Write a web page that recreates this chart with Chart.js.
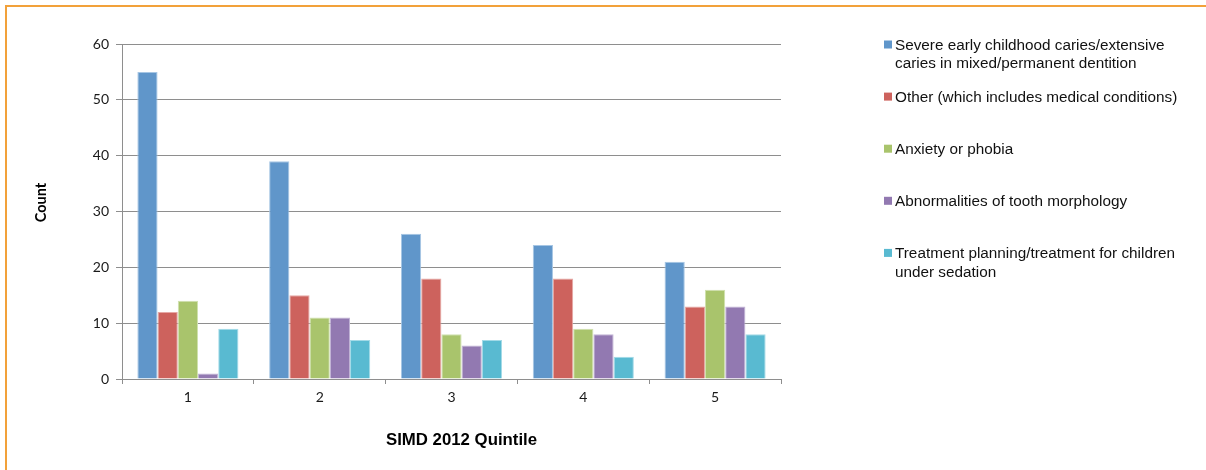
<!DOCTYPE html>
<html>
<head>
<meta charset="utf-8">
<script src="https://cdn.jsdelivr.net/npm/chart.js@4/dist/chart.umd.min.js"></script>
<style>
  html, body { margin: 0; padding: 0; background: #ffffff; overflow: hidden; width: 1206px; height: 470px; }
  #frame { position: absolute; left: 5px; top: 5px; width: 1300px; height: 600px; border: 2px solid #F2A13A; box-sizing: border-box; }
  #c { position: absolute; left: 0; top: 0; }
</style>
</head>
<body>
<div id="frame"></div>
<canvas id="c" width="1206" height="470"></canvas>
<script>
// ---- Data ----
const categories = ["1", "2", "3", "4", "5"];
const seriesNames = [
  "Severe early childhood caries/extensive caries in mixed/permanent dentition",
  "Other (which includes medical conditions)",
  "Anxiety or phobia",
  "Abnormalities of tooth morphology",
  "Treatment planning/treatment for children under sedation"
];
const severeCaries = [55, 39, 26, 24, 21];
const otherConditions = [12, 15, 18, 18, 13];
const anxietyPhobia = [14, 11, 8, 9, 16];
const toothMorphology = [1, 11, 6, 8, 13];
const sedationPlanning = [9, 7, 7, 4, 8];
const yTicks = [0, 10, 20, 30, 40, 50, 60];
const xAxisTitle = "SIMD 2012 Quintile";
const yAxisTitle = "Count";

// ---- Styles ----
const fillColors = ["#6096CA", "#CD625D", "#A9C46C", "#9279B1", "#59BAD1"];
const edgeColors = ["#A6C6E4", "#E6A8A5", "#D0E1AE", "#C2B4D5", "#A3DAE7"];
const seriesValues = [severeCaries, otherConditions, anxietyPhobia, toothMorphology, sedationPlanning];

const datasets = seriesValues.map((vals, i) => ({
  label: seriesNames[i],
  data: vals,
  backgroundColor: fillColors[i],
  borderColor: edgeColors[i],
  borderWidth: 1,
  categoryPercentage: 0.767,
  barPercentage: 1.0
}));

const gridColor = "#8E8E8E";
const tickFont = { family: "Lato", size: 14 };

const legendPlugin = {
  id: "sideLegend",
  afterDraw(chart) {
    const ctx = chart.ctx;
    ctx.save();
    ctx.font = "15.3px 'Liberation Sans', Arial, sans-serif";
    ctx.textBaseline = "middle";
    ctx.textAlign = "left";
    const boxX = 884, textX = 895, maxW = 300, lineH = 18.5;
    const y0 = 44.5, step = 52.1;
    chart.data.datasets.forEach((ds, i) => {
      const y = y0 + i * step;
      ctx.fillStyle = ds.backgroundColor;
      ctx.fillRect(boxX, y - 4, 8, 8);
      const words = ds.label.split(" ");
      const lines = [];
      let cur = "";
      words.forEach(w => {
        const test = cur ? cur + " " + w : w;
        if (ctx.measureText(test).width > maxW && cur) { lines.push(cur); cur = w; }
        else cur = test;
      });
      if (cur) lines.push(cur);
      ctx.fillStyle = "#111111";
      lines.forEach((ln, k) => ctx.fillText(ln, textX, y + 1 + k * lineH));
    });
    // axis titles
    ctx.fillStyle = "#000000";
    ctx.textAlign = "center";
    ctx.textBaseline = "middle";
    ctx.font = "bold 16.8px 'Liberation Sans', Arial, sans-serif";
    ctx.fillText(xAxisTitle, chart.chartArea.left + (chart.chartArea.right - chart.chartArea.left) / 2 + 10, 440);
    ctx.save();
    ctx.translate(41, chart.chartArea.top + (chart.chartArea.bottom - chart.chartArea.top) / 2 - 9);
    ctx.rotate(-Math.PI / 2);
    ctx.font = "bold 14.5px Lato, sans-serif";
    ctx.fillText(yAxisTitle, 0, 0);
    ctx.restore();
    ctx.restore();
  }
};

new Chart(document.getElementById("c"), {
  type: "bar",
  data: { labels: categories, datasets: datasets },
  options: {
    responsive: false,
    animation: false,
    layout: { padding: { left: 0, top: 44, right: 425, bottom: 0 } },
    plugins: { legend: { display: false }, tooltip: { enabled: false } },
    scales: {
      x: {
        afterFit(scale) { scale.height = 91; },
        grid: { display: true, drawOnChartArea: false, drawTicks: true, tickLength: 5, color: gridColor, offset: true },
        border: { display: true, color: gridColor, width: 1 },
        ticks: { font: tickFont, color: "#1a1a1a", padding: 5 },
        title: { display: false }
      },
      y: {
        min: 0, max: 60,
        afterFit(scale) { scale.width = 122; },
        afterBuildTicks(scale) { scale.ticks = yTicks.map(v => ({ value: v })); },
        grid: { display: true, drawOnChartArea: true, drawTicks: true, tickLength: 6, color: gridColor },
        border: { display: true, color: gridColor, width: 1 },
        ticks: { font: tickFont, color: "#1a1a1a", padding: 7 },
        title: { display: false }
      }
    }
  },
  plugins: [legendPlugin]
});
</script>
</body>
</html>
